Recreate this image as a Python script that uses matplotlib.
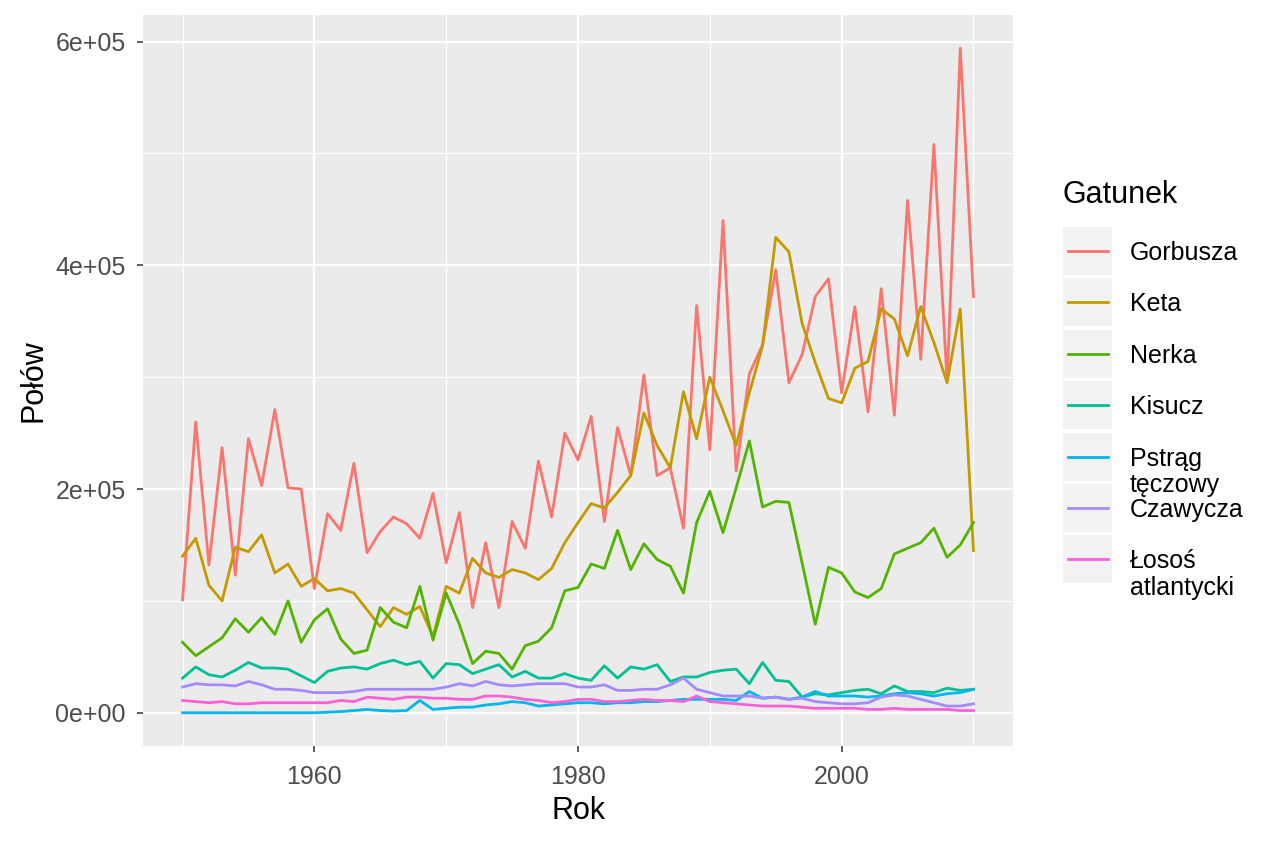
import numpy as np
import matplotlib
matplotlib.use("Agg")
import matplotlib.pyplot as plt
from matplotlib.patches import Rectangle
from matplotlib.ticker import FixedLocator

plt.rcParams['font.family'] = ['Liberation Sans', 'DejaVu Sans']

# lata i połowy (w tysiącach)
lata = np.arange(1950, 2011)

gorbusza = [101, 260, 132, 237, 123, 245, 203, 271, 201, 200,
            111, 178, 163, 223, 143, 162, 175, 169, 156, 196,
            134, 179, 94, 152, 94, 171, 147, 225, 175, 250,
            226, 265, 171, 255, 212, 302, 212, 219, 165, 364,
            235, 440, 216, 303, 329, 396, 295, 320, 372, 388,
            286, 363, 269, 379, 266, 458, 316, 508, 296, 594, 372]
keta = [140, 156, 114, 100, 148, 144, 159, 125, 133, 113,
        120, 109, 111, 107, 92, 77, 94, 88, 95, 68,
        113, 107, 138, 125, 121, 128, 125, 119, 129, 152,
        170, 187, 183, 197, 212, 268, 239, 219, 287, 245,
        300, 270, 239, 286, 328, 425, 412, 348, 313, 281,
        277, 308, 314, 361, 352, 319, 363, 331, 295, 361, 145]
nerka = [63, 51, 59, 67, 84, 72, 85, 70, 100, 63,
         83, 93, 66, 53, 56, 94, 81, 76, 113, 65,
         107, 79, 44, 55, 53, 39, 60, 64, 76, 109,
         112, 133, 129, 163, 128, 151, 137, 131, 107, 170,
         198, 161, 201, 243, 184, 189, 188, 134, 79, 130,
         125, 108, 103, 111, 142, 147, 152, 165, 139, 150, 170]
kisucz = [31, 41, 34, 32, 38, 45, 40, 40, 39, 33,
          27, 37, 40, 41, 39, 44, 47, 43, 46, 31,
          44, 43, 35, 39, 43, 32, 37, 31, 31, 35,
          31, 29, 42, 31, 41, 39, 43, 28, 32, 32,
          36, 38, 39, 26, 45, 29, 28, 14, 17, 16,
          18, 20, 21, 17, 24, 19, 19, 18, 22, 20, 21]
pstrag = [0, 0, 0, 0, 0, 0, 0, 0, 0, 0,
          0, 0.5, 1, 2, 3, 2, 1.5, 2, 11, 3,
          4, 5, 5, 7, 8, 10, 9, 6, 7, 8,
          9, 9, 8, 9, 9, 10, 10, 11, 12, 12,
          12, 12, 11, 19, 13, 14, 12, 14, 19, 15,
          15, 15, 14, 15, 17, 18, 17, 15, 17, 18, 21]
czawycza = [23, 26, 25, 25, 24, 28, 25, 21, 21, 20,
            18, 18, 18, 19, 21, 21, 21, 21, 21, 21,
            23, 26, 24, 28, 25, 24, 25, 26, 26, 26,
            23, 23, 25, 20, 20, 21, 21, 25, 31, 21,
            18, 15, 15, 15, 13, 14, 12, 13, 10, 9,
            8, 8, 9, 14, 16, 15, 12, 9, 6, 6, 8]
losos = [11, 10, 9, 10, 8, 8, 9, 9, 9, 9,
         9, 9, 11, 10, 14, 13, 12, 14, 14, 13,
         13, 12, 12, 15, 15, 14, 12, 11, 9, 10,
         12, 12, 10, 10, 11, 12, 11, 11, 10, 15,
         10, 9, 8, 7, 6, 6, 6, 5, 4, 4,
         4, 4, 3, 3, 4, 3, 3, 3, 3, 2, 2]

gatunki = ["Gorbusza", "Keta", "Nerka", "Kisucz", "Pstrąg\ntęczowy",
           "Czawycza", "Łosoś\natlantycki"]
serie = [gorbusza, keta, nerka, kisucz, pstrag, czawycza, losos]
kolory = ["#F8766D", "#C49A00", "#53B400", "#00C094", "#00B6EB",
          "#A58AFF", "#FB61D7"]

x_ticks = [1960, 1980, 2000]
x_minor = [1950, 1970, 1990, 2010]
y_ticks = [0, 200000, 400000, 600000]
y_minor = [100000, 300000, 500000]
y_labels = ["0e+00", "2e+05", "4e+05", "6e+05"]

W, H = 1264, 843
fig = plt.figure(figsize=(W / 100, H / 100), dpi=100)
ax = fig.add_axes([143 / W, 1 - 746 / H, (1013 - 143) / W, (746 - 15) / H])
ax.set_facecolor("#EBEBEB")

for nazwa, wart, kol in zip(gatunki, serie, kolory):
    ax.plot(lata, np.array(wart) * 1000, color=kol, lw=2.0, label=nazwa,
            solid_joinstyle="round", zorder=3)

ax.set_xlim(1947, 2013)
ax.set_ylim(-29700, 623700)
ax.xaxis.set_major_locator(FixedLocator(x_ticks))
ax.xaxis.set_minor_locator(FixedLocator(x_minor))
ax.yaxis.set_major_locator(FixedLocator(y_ticks))
ax.yaxis.set_minor_locator(FixedLocator(y_minor))
ax.set_yticklabels(y_labels)

ax.grid(True, which="major", color="white", lw=1.6, zorder=1)
ax.grid(True, which="minor", color="white", lw=0.8, zorder=1)
ax.set_axisbelow(True)
for s in ax.spines.values():
    s.set_visible(False)
ax.tick_params(which="major", color="#333333", length=4.5, width=1.1,
               labelcolor="#4D4D4D", labelsize=18)
ax.tick_params(axis="y", which="major", pad=8)
ax.tick_params(axis="x", which="major", pad=9)
ax.tick_params(which="minor", length=0)

ax.set_xlabel("Rok", fontsize=22, labelpad=5)
ax.set_ylabel("Połów", fontsize=22, labelpad=5)

# legenda rysowana recznie, zeby druga linia etykiety wychodzila pod klucz
lax = fig.add_axes([0, 0, 1, 1])
lax.set_xlim(0, W)
lax.set_ylim(H, 0)
lax.axis("off")
lax.text(1063, 195, "Gatunek", fontsize=22, va="center", ha="left")
for i, (nazwa, kol) in enumerate(zip(gatunki, kolory)):
    y0 = 227 + i * 51.4
    lax.add_patch(Rectangle((1063, y0), 49, 48, facecolor="#F2F2F2",
                            edgecolor="none"))
    lax.plot([1068, 1108], [y0 + 24, y0 + 24], color=kol, lw=2.0)
    lax.text(1130, y0 + 24 - 10, nazwa, fontsize=18, va="top", ha="left",
             linespacing=1.15)

fig.savefig("out.png", dpi=100)
